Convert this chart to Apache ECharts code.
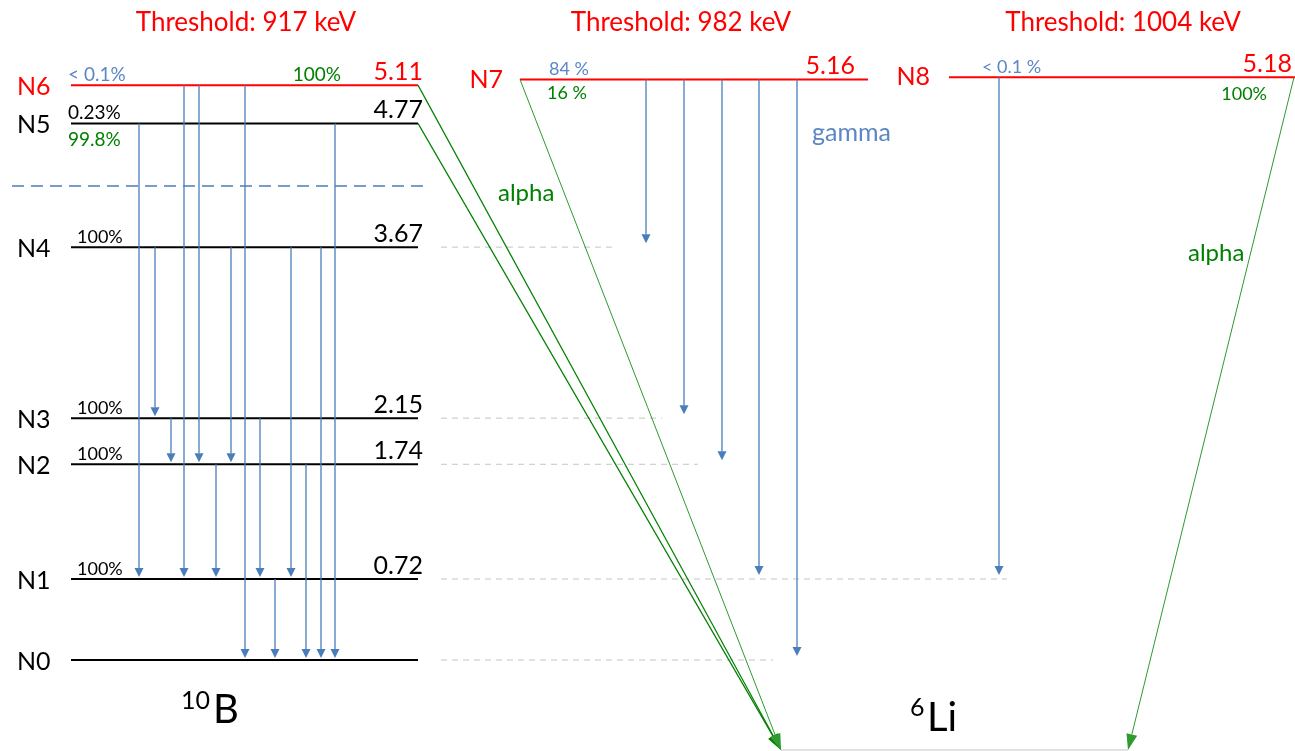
<!DOCTYPE html>
<html><head><meta charset="utf-8">
<script src="https://cdn.jsdelivr.net/npm/echarts@6/dist/echarts.min.js"></script>
<style>html,body{margin:0;padding:0;background:#fff}#c{width:1295px;height:751px}</style>
</head><body><div id="c"></div>
<script>
// ---------------- data ----------------
const b10Names = ['N0', 'N1', 'N2', 'N3', 'N4', 'N5', 'N6'];
const b10Energy = [0.00, 0.72, 1.74, 2.15, 3.67, 4.77, 5.11];          // MeV
const b10GammaBranch = ['', '100%', '100%', '100%', '100%', '0.23%', '< 0.1%'];
const b10AlphaBranch = ['', '', '', '', '', '99.8%', '100%'];
const upperNames = ['N7', 'N8'];
const upperEnergy = [5.16, 5.18];                                       // MeV
const upperGammaBranch = ['84 %', '< 0.1 %'];
const upperAlphaBranch = ['16 %', '100%'];
const thresholdKeV = [917, 982, 1004];
// gamma transitions inside 10B: [from level, to level]
const b10Gammas = [[6,1],[6,2],[6,0],[5,1],[5,0],[4,3],[4,2],[4,1],[4,0],[3,2],[3,1],[2,1],[2,0],[1,0]];
const n7GammaTo = [4, 3, 2, 1, 0];
const n8GammaTo = [1];
const alphaSources = ['N6', 'N5', 'N7', 'N8'];
const isotopes = [['10', 'B'], ['6', 'Li']];
const decayWords = ['alpha', 'gamma', 'alpha'];

// ---------------- layout ----------------
const FONT = 'Lato, "Open Sans", sans-serif';
const RED = '#ff0000', BLUE = '#4a7ebb', LBLUE = '#5b87c5', GREEN = '#008000', GREEN2 = '#2f9a2f';
const B10_X = [71, 418];
const UPPER_X = [[520, 868], [949, 1295]];
const b10GammaX = [184, 199, 245, 139, 335, 155, 231, 291, 321, 171, 260, 216, 306, 275];
const n7GammaX = [646, 684, 722, 759, 797];
const n8GammaX = [999];
const guideEndX = [773, 1007, 698, 662, 612];   // dashed guides for N0..N4
const GUIDE_X0 = 441;
const LI6_E = -0.8;           // vertical position of the 6Li ground line on the diagram
const LI6_X = [781, 1128];
const SEP_E = 4.213;
const SEP_X = [12, 427];
const Y_MIN = -0.80889, Y_MAX = 5.86667;

function mkArrow(p1, p2, color, lw, headLen, headW, gap) {
  const dx = p2[0] - p1[0], dy = p2[1] - p1[1];
  const L = Math.hypot(dx, dy), ux = dx / L, uy = dy / L;
  const tip = [p2[0] - ux * gap, p2[1] - uy * gap];
  const base = [tip[0] - ux * headLen, tip[1] - uy * headLen];
  const nx = -uy, ny = ux;
  return [
    {type: 'line', shape: {x1: p1[0], y1: p1[1], x2: base[0], y2: base[1]}, style: {stroke: color, lineWidth: lw}},
    {type: 'polygon', shape: {points: [tip, [base[0] + nx * headW / 2, base[1] + ny * headW / 2], [base[0] - nx * headW / 2, base[1] - ny * headW / 2]]}, style: {fill: color}}
  ];
}
function txt(x, y, text, color, size, align, va) {
  return {type: 'text', x: x, y: y, style: {text: text, fill: color, font: size + 'px ' + FONT, align: align || 'left', verticalAlign: va || 'middle'}};
}

const chart = echarts.init(document.getElementById('c'), null, {renderer: 'canvas'});

const b10LevelData = b10Energy.map((e, i) => [B10_X[0], e, B10_X[1], i]);
const upperLevelData = upperEnergy.map((e, i) => [UPPER_X[i][0], e, UPPER_X[i][1], i]);
const b10GammaData = b10Gammas.map(([f, t], k) => [b10GammaX[k], b10Energy[f], b10Energy[t]]);
const upperGammaData = n7GammaTo.map((t, k) => [n7GammaX[k], upperEnergy[0], b10Energy[t]])
  .concat(n8GammaTo.map((t, k) => [n8GammaX[k], upperEnergy[1], b10Energy[t]]));
const guideData = guideEndX.map((x, i) => [x, b10Energy[i]]);
const alphaData = alphaSources.map(n => {
  let i = b10Names.indexOf(n);
  if (i >= 0) return [B10_X[1], b10Energy[i], LI6_X[0], LI6_E, 0];
  i = upperNames.indexOf(n);
  return i === 0 ? [UPPER_X[0][0], upperEnergy[0], LI6_X[0], LI6_E, 1] : [UPPER_X[1][1] - 1, upperEnergy[1], LI6_X[1], LI6_E, 1];
});

const option = {
  animation: false,
  backgroundColor: '#fff',
  title: thresholdKeV.map((k, i) => ({
    text: 'Threshold: ' + k + ' keV',
    left: [241, 676, 1118][i], top: 5, textAlign: 'center',
    textStyle: {color: RED, fontSize: 26, fontWeight: 'normal', fontFamily: FONT}
  })),
  grid: {left: 0, right: 0, top: 0, bottom: 0},
  xAxis: {type: 'value', min: 0, max: 1295, show: false},
  yAxis: {type: 'value', min: Y_MIN, max: Y_MAX, show: false},
  series: [
    { // dashed guides
      type: 'custom', silent: true, data: guideData,
      renderItem(params, api) {
        const a = api.coord([GUIDE_X0, api.value(1)]), b = api.coord([api.value(0), api.value(1)]);
        return {type: 'line', shape: {x1: a[0], y1: a[1], x2: b[0], y2: b[1]}, style: {stroke: '#c4c4c4', lineWidth: 1, lineDash: [6, 5]}};
      }
    },
    { // separator
      type: 'custom', silent: true, data: [[SEP_X[0], SEP_E, SEP_X[1]]],
      renderItem(params, api) {
        const a = api.coord([api.value(0), api.value(1)]), b = api.coord([api.value(2), api.value(1)]);
        return {type: 'line', shape: {x1: a[0], y1: a[1], x2: b[0], y2: b[1]}, style: {stroke: BLUE, lineWidth: 1.5, lineDash: [12, 7]}};
      }
    },
    { // 6Li ground
      type: 'custom', silent: true, data: [[LI6_X[0], LI6_E, LI6_X[1]]],
      renderItem(params, api) {
        const a = api.coord([api.value(0), api.value(1)]), b = api.coord([api.value(2), api.value(1)]);
        return {type: 'line', shape: {x1: a[0], y1: a[1], x2: b[0], y2: b[1]}, style: {stroke: '#d9d9d9', lineWidth: 1.5}};
      }
    },
    { // 10B levels
      type: 'custom', silent: true, data: b10LevelData,
      renderItem(params, api) {
        const i = params.dataIndex, e = api.value(1);
        const p1 = api.coord([api.value(0), e]), p2 = api.coord([api.value(2), e]);
        const top = i === b10Names.length - 1;
        const col = top ? RED : '#000';
        const ch = [{type: 'line', shape: {x1: p1[0], y1: p1[1], x2: p2[0], y2: p2[1]}, style: {stroke: col, lineWidth: 2}}];
        ch.push(txt(17, p1[1] + 2, b10Names[i], col, 25, 'left', 'middle'));
        if (e > 0) ch.push(txt(p2[0] + 5, p2[1] - 1, e.toFixed(2), col, 25, 'right', 'bottom'));
        const g = b10GammaBranch[i];
        if (g) {
          const gc = top ? LBLUE : '#000';
          const fs = i <= 4 ? 18 : 19;
          ch.push(txt(i <= 4 ? p1[0] + 6 : p1[0] - 3, p1[1] - 1, g, gc, fs, 'left', 'bottom'));
        }
        const a = b10AlphaBranch[i];
        if (a) {
          if (top) ch.push(txt(341, p1[1] - 1, a, GREEN, 19, 'right', 'bottom'));
          else ch.push(txt(p1[0] - 3, p1[1] + 7, a, GREEN, 19, 'left', 'top'));
        }
        return {type: 'group', children: ch};
      }
    },
    { // upper levels N7, N8
      type: 'custom', silent: true, data: upperLevelData,
      renderItem(params, api) {
        const i = params.dataIndex, e = api.value(1);
        const p1 = api.coord([api.value(0), e]), p2 = api.coord([api.value(2), e]);
        const ch = [{type: 'line', shape: {x1: p1[0], y1: p1[1], x2: p2[0], y2: p2[1]}, style: {stroke: RED, lineWidth: 2}}];
        ch.push(txt(p1[0] - [17, 19][i], p1[1], upperNames[i], RED, 25, 'right', 'middle'));
        ch.push(txt([855, 1292][i], p1[1] - 1, e.toFixed(2), RED, 25, 'right', 'bottom'));
        ch.push(txt([549, 982][i], p1[1] - 1, upperGammaBranch[i], LBLUE, 18, 'left', 'bottom'));
        if (i === 0) ch.push(txt(547, p1[1] + 5, upperAlphaBranch[i], GREEN, 18, 'left', 'top'));
        else ch.push(txt(1267, p1[1] + 8, upperAlphaBranch[i], GREEN, 18, 'right', 'top'));
        return {type: 'group', children: ch};
      }
    },
    { // 10B gammas
      type: 'custom', silent: true, data: b10GammaData,
      renderItem(params, api) {
        const a = api.coord([api.value(0), api.value(1)]), b = api.coord([api.value(0), api.value(2)]);
        return {type: 'group', children: mkArrow(a, b, BLUE, 1.3, 9, 9, 2)};
      }
    },
    { // N7/N8 gammas
      type: 'custom', silent: true, data: upperGammaData,
      renderItem(params, api) {
        const a = api.coord([api.value(0), api.value(1)]), b = api.coord([api.value(0), api.value(2)]);
        return {type: 'group', children: mkArrow(a, b, BLUE, 1.3, 9, 9, 4)};
      }
    },
    { // alphas
      type: 'custom', silent: true, data: alphaData,
      renderItem(params, api) {
        const a = api.coord([api.value(0), api.value(1)]), b = api.coord([api.value(2), api.value(3)]);
        const thin = api.value(4) === 1;
        return {type: 'group', children: mkArrow(a, b, thin ? GREEN2 : GREEN, thin ? 1 : 1.2, 16, 11, 0)};
      }
    }
  ],
  graphic: [
    {type: 'text', left: 498, top: 181, style: {text: decayWords[0], fill: GREEN, font: '24px ' + FONT}},
    {type: 'text', left: 812, top: 120, style: {text: decayWords[1], fill: LBLUE, font: '25px ' + FONT}},
    {type: 'text', left: 1188, top: 241, style: {text: decayWords[2], fill: GREEN, font: '24px ' + FONT}},
    {type: 'text', left: 181, top: 688, style: {text: isotopes[0][0], fill: '#000', font: '25px ' + FONT}},
    {type: 'text', left: 213, top: 690, style: {text: isotopes[0][1], fill: '#000', font: '40px ' + FONT}},
    {type: 'text', left: 910, top: 695, style: {text: isotopes[1][0], fill: '#000', font: '25px ' + FONT}},
    {type: 'text', left: 927, top: 698, style: {text: isotopes[1][1], fill: '#000', font: '40px ' + FONT}}
  ]
};
chart.setOption(option);
</script></body></html>
